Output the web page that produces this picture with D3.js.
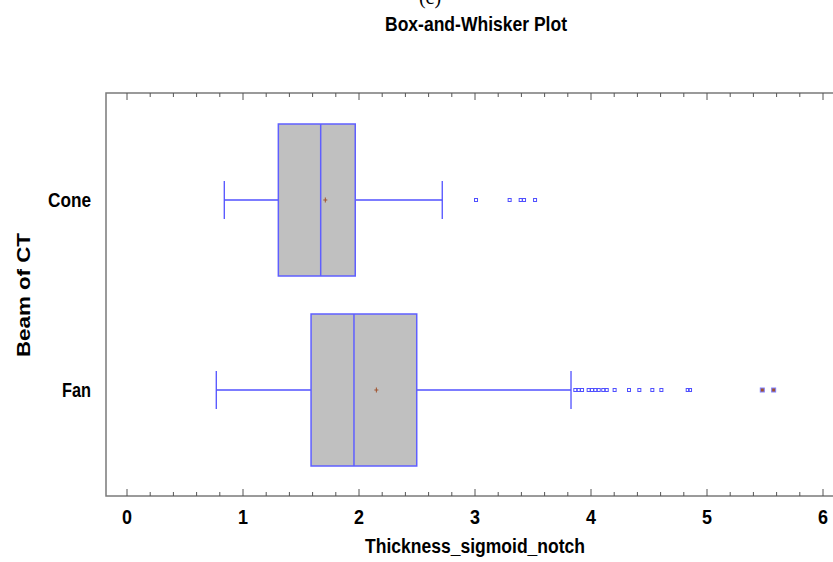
<!DOCTYPE html>
<html>
<head>
<meta charset="utf-8">
<script src="https://cdn.jsdelivr.net/npm/d3@7"></script>
<style>
  body { margin: 0; background: #fff; }
  text { font-family: "Liberation Sans", Arial, sans-serif; font-weight: bold; fill: #000; }
</style>
</head>
<body>
<div id="chart"></div>
<script>
// data
var categories = ["Cone", "Fan"];
var whiskerLow = [0.843, 0.774];
var q1 = [1.309, 1.591];
var median = [1.674, 1.961];
var mean = [1.714, 2.154];
var q3 = [1.972, 2.502];
var whiskerHigh = [2.722, 3.832];
var outliersCone = [3.013, 3.303, 3.398, 3.427, 3.522];
var outliersFan = [3.869, 3.898, 3.927, 3.984, 4.013, 4.042, 4.071, 4.11, 4.14,
  4.208, 4.332, 4.421, 4.533, 4.611, 4.838, 4.858];
var farOutliersFan = [5.481, 5.579];
var xTicks = [0, 1, 2, 3, 4, 5, 6];

var width = 833, height = 562;
var frame = { left: 106, top: 93, right: 838, bottom: 496 };

var x = d3.scaleLinear().domain([0, 6]).range([126.5, 822.5]);
var y = d3.scalePoint().domain(categories).range([200, 390]);
var boxHalf = 76, capHalf = 19;

var blue = "#5050ff";

var svg = d3.select("#chart").append("svg")
  .attr("width", width)
  .attr("height", height);

// frame
svg.append("rect")
  .attr("x", frame.left).attr("y", frame.top)
  .attr("width", frame.right - frame.left)
  .attr("height", frame.bottom - frame.top)
  .attr("fill", "none")
  .attr("stroke", "#7a7a7a")
  .attr("stroke-width", 1.5);

// bottom axis, ticks pointing inward
var minor = d3.range(0, 6.01, 0.2).filter(function (d) { return Math.abs(d - Math.round(d)) > 0.01; });

var xAxisBottom = d3.axisBottom(x).tickValues(xTicks).tickSize(-7).tickPadding(16).tickFormat(d3.format("d"));
var gx = svg.append("g")
  .attr("transform", "translate(0," + frame.bottom + ")")
  .call(xAxisBottom);
gx.select(".domain").remove();
gx.selectAll("line").attr("stroke", "#555");
gx.selectAll("text").style("font-size", "20px").attr("dy", "0.62em")
  .attr("textLength", 10).attr("lengthAdjust", "spacingAndGlyphs");

svg.append("g")
  .attr("transform", "translate(0," + frame.bottom + ")")
  .call(d3.axisBottom(x).tickValues(minor).tickSize(-4).tickFormat(""))
  .call(function (g) { g.select(".domain").remove(); g.selectAll("line").attr("stroke", "#555"); });

// top axis, same ticks pointing down
svg.append("g")
  .attr("transform", "translate(0," + frame.top + ")")
  .call(d3.axisTop(x).tickValues(xTicks).tickSize(-7).tickFormat(""))
  .call(function (g) { g.select(".domain").remove(); g.selectAll("line").attr("stroke", "#555"); });
svg.append("g")
  .attr("transform", "translate(0," + frame.top + ")")
  .call(d3.axisTop(x).tickValues(minor).tickSize(-4).tickFormat(""))
  .call(function (g) { g.select(".domain").remove(); g.selectAll("line").attr("stroke", "#555"); });

// category labels
var catWidth = { Cone: 43, Fan: 29 };
svg.selectAll(".cat")
  .data(categories)
  .enter().append("text")
  .attr("class", "cat")
  .attr("x", 91)
  .attr("y", function (d) { return y(d) + 7; })
  .attr("text-anchor", "end")
  .attr("textLength", function (d) { return catWidth[d]; })
  .attr("lengthAdjust", "spacingAndGlyphs")
  .style("font-size", "20px")
  .text(function (d) { return d; });

// boxes
var rows = categories.map(function (c, i) {
  return { cat: c, lo: whiskerLow[i], q1: q1[i], med: median[i], mean: mean[i], q3: q3[i], hi: whiskerHigh[i] };
});

var g = svg.selectAll(".box").data(rows).enter().append("g").attr("class", "box");

g.append("line")
  .attr("x1", function (d) { return x(d.lo); })
  .attr("x2", function (d) { return x(d.q1); })
  .attr("y1", function (d) { return y(d.cat); })
  .attr("y2", function (d) { return y(d.cat); })
  .attr("stroke", blue).attr("stroke-width", 1.3);
g.append("line")
  .attr("x1", function (d) { return x(d.q3); })
  .attr("x2", function (d) { return x(d.hi); })
  .attr("y1", function (d) { return y(d.cat); })
  .attr("y2", function (d) { return y(d.cat); })
  .attr("stroke", blue).attr("stroke-width", 1.3);
g.append("line")
  .attr("x1", function (d) { return x(d.lo); })
  .attr("x2", function (d) { return x(d.lo); })
  .attr("y1", function (d) { return y(d.cat) - capHalf; })
  .attr("y2", function (d) { return y(d.cat) + capHalf; })
  .attr("stroke", blue).attr("stroke-width", 1.3);
g.append("line")
  .attr("x1", function (d) { return x(d.hi); })
  .attr("x2", function (d) { return x(d.hi); })
  .attr("y1", function (d) { return y(d.cat) - capHalf; })
  .attr("y2", function (d) { return y(d.cat) + capHalf; })
  .attr("stroke", blue).attr("stroke-width", 1.3);

g.append("rect")
  .attr("x", function (d) { return x(d.q1); })
  .attr("y", function (d) { return y(d.cat) - boxHalf; })
  .attr("width", function (d) { return x(d.q3) - x(d.q1); })
  .attr("height", boxHalf * 2)
  .attr("fill", "#c0c0c0")
  .attr("stroke", "#5f5fff")
  .attr("stroke-width", 1.5);

g.append("line")
  .attr("x1", function (d) { return x(d.med); })
  .attr("x2", function (d) { return x(d.med); })
  .attr("y1", function (d) { return y(d.cat) - boxHalf; })
  .attr("y2", function (d) { return y(d.cat) + boxHalf; })
  .attr("stroke", "#5f5fff").attr("stroke-width", 1.5);

// mean marker
g.append("path")
  .attr("d", function (d) {
    var cx = x(d.mean), cy = y(d.cat);
    return "M" + (cx - 2) + "," + cy + "H" + (cx + 2) + "M" + cx + "," + (cy - 2.5) + "V" + (cy + 2.5);
  })
  .attr("stroke", "#a0522d").attr("stroke-width", 1);

// outliers
var outs = outliersCone.map(function (v) { return { cat: "Cone", v: v }; })
  .concat(outliersFan.map(function (v) { return { cat: "Fan", v: v }; }));

svg.selectAll(".out").data(outs).enter().append("rect")
  .attr("class", "out")
  .attr("x", function (d) { return x(d.v) - 1.5; })
  .attr("y", function (d) { return y(d.cat) - 1.5; })
  .attr("width", 3).attr("height", 3)
  .attr("fill", "none")
  .attr("stroke", blue).attr("stroke-width", 1);

svg.selectAll(".far").data(farOutliersFan).enter().append("rect")
  .attr("class", "far")
  .attr("x", function (d) { return x(d) - 2; })
  .attr("y", y("Fan") - 2)
  .attr("width", 4).attr("height", 4)
  .attr("fill", "#a0522d")
  .attr("stroke", "#8080ff").attr("stroke-width", 1);

// titles
svg.append("text")
  .attr("x", 430).attr("y", 4)
  .attr("text-anchor", "middle")
  .style("font-family", "'Liberation Serif', 'Times New Roman', serif")
  .style("font-weight", "normal")
  .style("font-size", "20px")
  .text("(c)");

svg.append("text")
  .attr("x", 476).attr("y", 31)
  .attr("text-anchor", "middle")
  .attr("textLength", 182)
  .attr("lengthAdjust", "spacingAndGlyphs")
  .style("font-size", "21px")
  .text("Box-and-Whisker Plot");

svg.append("text")
  .attr("x", 475).attr("y", 553)
  .attr("text-anchor", "middle")
  .attr("textLength", 220)
  .attr("lengthAdjust", "spacingAndGlyphs")
  .style("font-size", "20px")
  .text("Thickness_sigmoid_notch");

svg.append("text")
  .attr("transform", "translate(30,295) rotate(-90)")
  .attr("text-anchor", "middle")
  .attr("textLength", 124)
  .attr("lengthAdjust", "spacingAndGlyphs")
  .style("font-size", "18px")
  .text("Beam of CT");
</script>
</body>
</html>
